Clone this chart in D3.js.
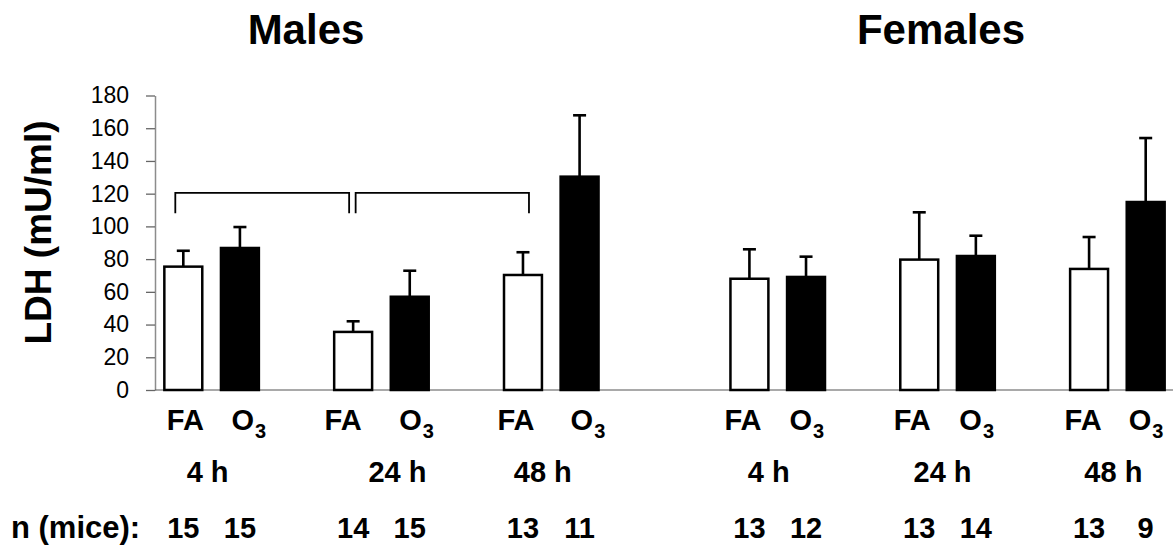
<!DOCTYPE html>
<html>
<head>
<meta charset="utf-8">
<script src="https://cdn.jsdelivr.net/npm/d3@7"></script>
<style>
  body { margin: 0; background: #fff; }
  svg { display: block; }
  text { font-family: "Liberation Sans", Arial, sans-serif; fill: #000; }
</style>
</head>
<body>
<svg id="chart" width="1173" height="546"></svg>
<script>
// LDH in lavage fluid (mU/ml), mean and upper SE, per sex / time / exposure
const sexes = ["Males", "Females"];
const times = ["4 h", "24 h", "48 h"];
const exposures = ["FA", "O3"];

const maleMeans   = [75.4, 86.8, 35.5, 57.0, 70.3, 130.4];
const maleErrors  = [9.7, 12.8, 6.5, 15.9, 13.9, 37.5];
const femaleMeans = [68.0, 69.1, 79.7, 81.9, 74.0, 114.9];
const femaleErrors = [18.0, 12.4, 28.9, 12.4, 19.5, 39.1];
const maleN   = [15, 15, 14, 15, 13, 11];
const femaleN = [13, 12, 13, 14, 13, 9];

const yTicks = [0, 20, 40, 60, 80, 100, 120, 140, 160, 180];

// Significance brackets between male FA groups (pairs of time indices)
const maleBrackets = [[0, 1], [1, 2]];
const bracketLevel = 120.5;
const bracketLegLevel = 108;

// ---- layout ----
const W = 1173, H = 546;
const plotLeft = 155, plotRight = 1174;
const svg = d3.select("#chart");

// hand-placed label nudges (px) relative to the bar / pair centres
const faNudge = { Males: [2, -10, -7], Females: [-6.5, -7, -6] };
const o3Nudge = { Males: [3, 1, 2.5], Females: [-5, -5, -5.5] };
const timeNudge = { Males: [-4, 16, -8.5], Females: [-9, -5, -4] };

const meansBySex = { Males: maleMeans, Females: femaleMeans };
const errorsBySex = { Males: maleErrors, Females: femaleErrors };
const nBySex = { Males: maleN, Females: femaleN };

const rows = [];
sexes.forEach(sex => {
  times.forEach((time, ti) => {
    exposures.forEach((exp, ei) => {
      const i = ti * exposures.length + ei;
      rows.push({
        key: `${sex}|${time}|${exp}`, sex, time, ti, exp,
        mean: meansBySex[sex][i], err: errorsBySex[sex][i], n: nBySex[sex][i]
      });
    });
  });
});

// One slot per bar, an empty slot after each time pair, and an extra one between the sexes
const slots = [];
sexes.forEach((sex, si) => {
  if (si > 0) slots.push(`gap|${sex}`);
  times.forEach(time => {
    exposures.forEach(exp => slots.push(`${sex}|${time}|${exp}`));
    slots.push(`gap|${sex}|${time}`);
  });
});
slots.pop();

const x = d3.scaleBand().domain(slots).range([plotLeft, plotRight]).padding(0);
const barW = x.bandwidth() * 0.67;
const cx = key => x(key) + x.bandwidth() / 2;

const y = d3.scaleLinear().domain([0, 180]).range([390, 95.5]);

// ---- y axis ----
const yAxis = svg.append("g")
  .attr("transform", `translate(${plotLeft},0)`)
  .call(d3.axisLeft(y).tickValues(yTicks).tickSize(9).tickSizeOuter(0).tickPadding(17));
yAxis.select(".domain").attr("stroke", "#8c8c8c").attr("stroke-width", 1.5);
yAxis.selectAll(".tick line").attr("stroke", "#666").attr("stroke-width", 1.3);
yAxis.selectAll(".tick text")
  .attr("font-size", 23)
  .attr("font-family", '"Liberation Sans", Arial, sans-serif')
  .attr("fill", "#000");

// baseline
svg.append("line")
  .attr("x1", plotLeft).attr("x2", W)
  .attr("y1", y(0)).attr("y2", y(0))
  .attr("stroke", "#555").attr("stroke-width", 1.2);

// ---- bars ----
svg.append("g").selectAll("rect")
  .data(rows)
  .join("rect")
  .attr("x", d => cx(d.key) - barW / 2)
  .attr("y", d => y(d.mean))
  .attr("width", barW)
  .attr("height", d => y(0) - y(d.mean))
  .attr("fill", d => d.exp === "FA" ? "#fff" : "#000")
  .attr("stroke", "#000")
  .attr("stroke-width", 2.5);

// ---- error bars (upper only) ----
const capW = 13;
const eb = svg.append("g").attr("stroke", "#000").attr("stroke-width", 2.6);
eb.selectAll("line.stem")
  .data(rows)
  .join("line")
  .attr("class", "stem")
  .attr("x1", d => cx(d.key)).attr("x2", d => cx(d.key))
  .attr("y1", d => y(d.mean)).attr("y2", d => y(d.mean + d.err));
eb.selectAll("line.cap")
  .data(rows)
  .join("line")
  .attr("class", "cap")
  .attr("x1", d => cx(d.key) - capW / 2).attr("x2", d => cx(d.key) + capW / 2)
  .attr("y1", d => y(d.mean + d.err)).attr("y2", d => y(d.mean + d.err));

// ---- significance brackets ----
const bg = svg.append("g").attr("fill", "none").attr("stroke", "#000").attr("stroke-width", 1.8);
maleBrackets.forEach(([a, b], i) => {
  const ka = `Males|${times[a]}|FA`, kb = `Males|${times[b]}|FA`;
  const x1 = cx(ka) + (i === 0 ? -8 : 2.5);
  const x2 = cx(kb) + (i === 0 ? -4 : 6);
  bg.append("path")
    .attr("d", `M${x1},${y(bracketLegLevel)}V${y(bracketLevel)}H${x2}V${y(bracketLegLevel)}`);
});

// ---- titles ----
svg.append("text").attr("x", 306).attr("y", 44).attr("text-anchor", "middle")
  .attr("font-size", 42).attr("font-weight", "bold").text(sexes[0]);
svg.append("text").attr("x", 941).attr("y", 44).attr("text-anchor", "middle")
  .attr("font-size", 42).attr("font-weight", "bold").text(sexes[1]);

// ---- y axis title ----
svg.append("text")
  .attr("transform", `translate(51,232.5) rotate(-90)`)
  .attr("text-anchor", "middle")
  .attr("font-size", 37).attr("font-weight", "bold")
  .text("LDH (mU/ml)");

// ---- exposure labels ----
const labelSize = 29;
rows.forEach(d => {
  if (d.exp === "FA") {
    svg.append("text")
      .attr("x", cx(d.key) + faNudge[d.sex][d.ti]).attr("y", 430)
      .attr("text-anchor", "middle")
      .attr("font-size", labelSize).attr("font-weight", "bold")
      .text("FA");
  } else {
    const t = svg.append("text")
      .attr("x", cx(d.key) - 11.5 + o3Nudge[d.sex][d.ti]).attr("y", 430)
      .attr("font-size", labelSize).attr("font-weight", "bold");
    t.append("tspan").text("O");
    t.append("tspan").attr("font-size", 20).attr("dy", 8).attr("dx", 1).text("3");
  }
});

// ---- time labels ----
sexes.forEach(sex => {
  times.forEach((time, ti) => {
    const mid = (cx(`${sex}|${time}|FA`) + cx(`${sex}|${time}|O3`)) / 2;
    svg.append("text")
      .attr("x", mid + timeNudge[sex][ti]).attr("y", 482)
      .attr("text-anchor", "middle")
      .attr("font-size", labelSize).attr("font-weight", "bold")
      .text(time);
  });
});

// ---- sample sizes ----
svg.append("text").attr("x", 11).attr("y", 538)
  .attr("font-size", 31).attr("font-weight", "bold").text("n (mice):");
svg.append("g").selectAll("text")
  .data(rows)
  .join("text")
  .attr("x", d => cx(d.key)).attr("y", 538)
  .attr("text-anchor", "middle")
  .attr("font-size", 29).attr("font-weight", "bold")
  .text(d => d.n);
</script>
</body>
</html>
